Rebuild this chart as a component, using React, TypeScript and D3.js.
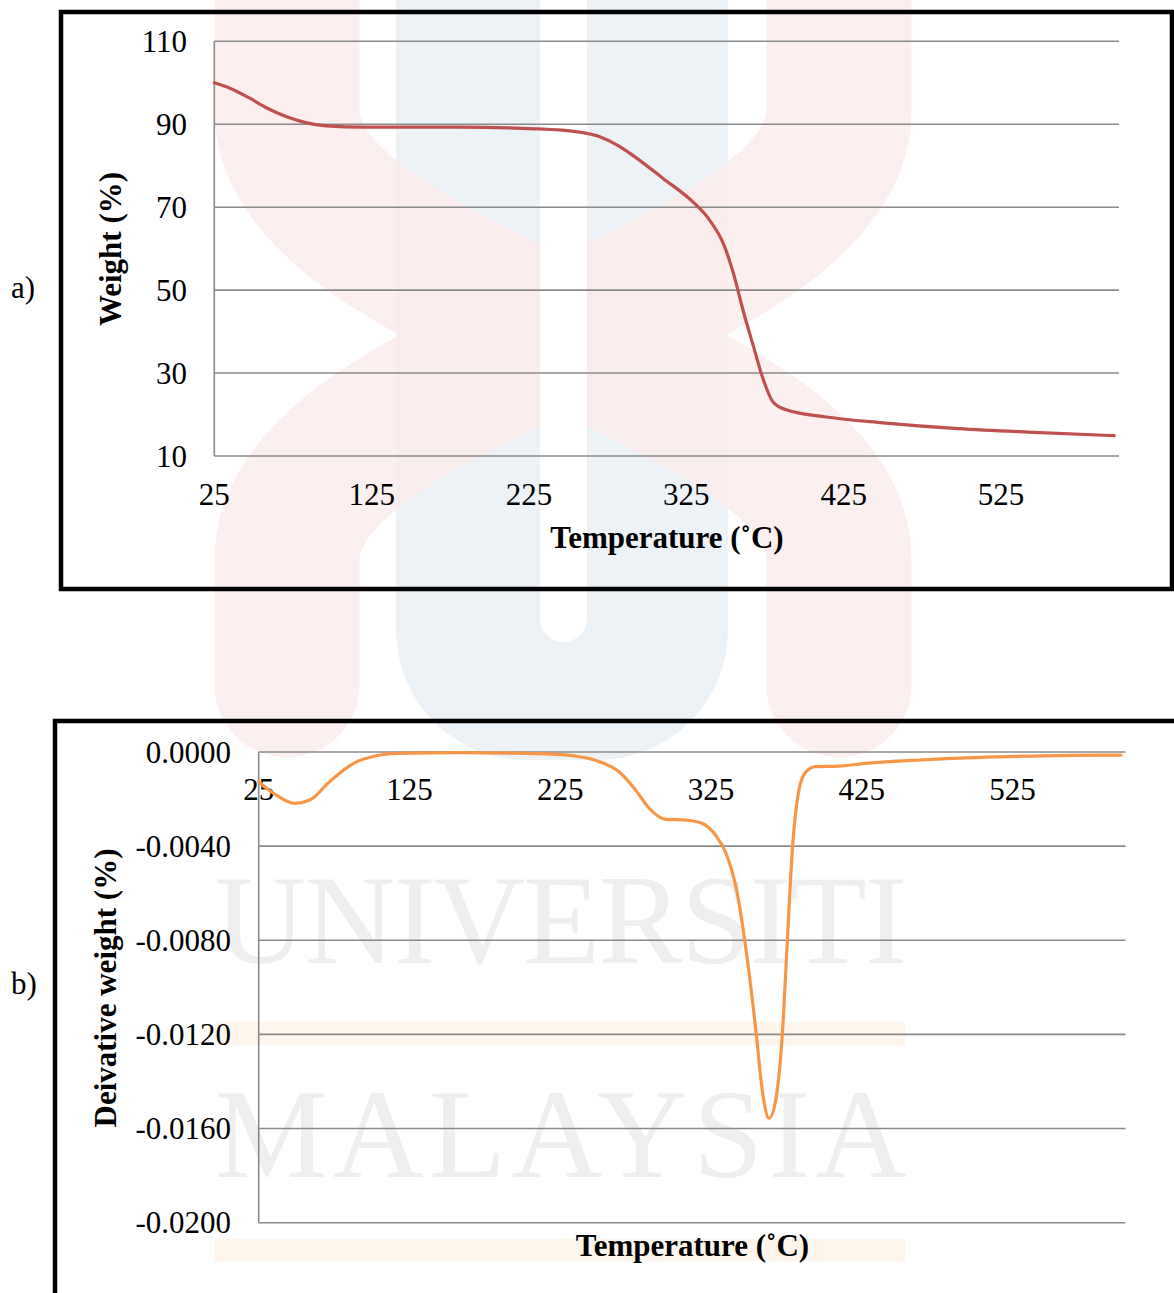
import React from "react";
import * as d3 from "d3";

// ---------- Panel a: TGA weight curve ----------
const tempA = [25, 35, 47, 59, 71, 83, 96, 120, 180, 229, 257, 270, 282, 291, 310, 330, 339, 349, 356, 361, 368, 373, 380, 388, 414, 450, 498, 546, 597];
const weightA = [100, 98.7, 96.4, 93.8, 91.8, 90.4, 89.6, 89.3, 89.3, 88.9, 88.1, 87.0, 84.8, 82.5, 77.0, 71.0, 67.3, 60.8, 52.6, 45.2, 36.0, 29.5, 23.1, 21.2, 19.4, 18.0, 16.6, 15.7, 14.9];
const yTicksA = [10, 30, 50, 70, 90, 110];

// ---------- Panel b: DTG curve ----------
const tempB = [25, 35, 49, 59, 72, 88, 103, 116, 160, 216, 238, 251, 264, 275, 284, 295, 308, 319, 328, 335, 342, 348, 355, 359, 363.6, 368, 372.4, 375.7, 379, 383.4, 388, 394.5, 410, 425, 464, 515, 565, 597];
const derivB = [-0.00126, -0.00176, -0.00218, -0.00204, -0.00126, -0.00048, -0.00016, -0.00006, -0.00003, -0.00008, -0.0002, -0.00041, -0.00084, -0.00161, -0.00239, -0.00286, -0.00289, -0.00303, -0.00353, -0.0043, -0.00586, -0.00827, -0.01195, -0.01436, -0.01556, -0.01479, -0.01195, -0.00799, -0.00416, -0.00161, -0.00084, -0.00062, -0.0006, -0.0005, -0.00034, -0.00021, -0.00014, -0.00013];
const yTicksB = [0, -0.004, -0.008, -0.012, -0.016, -0.02];

const xTicks = [25, 125, 225, 325, 425, 525];

const FONT = "'Liberation Serif', 'Times New Roman', Times, serif";
const GRID = "#8a8a8a";
const RED = "#C0504D";
const ORANGE = "#F79646";

function Watermark() {
  return (
    <g>
      {/* blue U */}
      <path d="M396,-10 L728,-10 L728,630 A130,130 0 0 1 598,760 L526,760 A130,130 0 0 1 396,630 Z" fill="#EDF2F7" />
      {/* red crossing ribbons */}
      <g opacity={0.75} fill="none" stroke="#FCEAEA" strokeWidth={145} strokeLinecap="round">
        <path d="M287,-80 L287,110 C287,300 839,370 839,560 L839,685" />
        <path d="M839,-80 L839,110 C839,300 287,370 287,560 L287,685" />
      </g>
      {/* white slot */}
      <path d="M540,-10 L587,-10 L587,618.5 A23.5,23.5 0 0 1 540,618.5 Z" fill="#ffffff" />
      {/* pale bars */}
      <rect x={215} y={1022} width={690} height={23} fill="#FEF5EC" />
      <rect x={215} y={1239} width={690} height={22} fill="#FEF5EC" />
      {/* text */}
      <text x={215} y={963} fontFamily={FONT} fontSize={126} fill="#EFEFEF" textLength={692} lengthAdjust="spacing">UNIVERSITI</text>
      <text x={215} y={1177} fontFamily={FONT} fontSize={126} fill="#EFEFEF" textLength={692} lengthAdjust="spacing">MALAYSIA</text>
    </g>
  );
}

export default function App() {
  const xA = d3.scaleLinear().domain([25, 600]).range([214.3, 1119]);
  const yA = d3.scaleLinear().domain([10, 110]).range([456, 41.3]);
  const xB = d3.scaleLinear().domain([25, 600]).range([258.7, 1125.5]);
  const yB = d3.scaleLinear().domain([-0.02, 0]).range([1222.7, 752]);

  const lineA = d3
    .line<number>()
    .x((_, i) => xA(tempA[i]))
    .y((d) => yA(d))
    .curve(d3.curveMonotoneX);
  const lineB = d3
    .line<number>()
    .x((_, i) => xB(tempB[i]))
    .y((d) => yB(d))
    .curve(d3.curveMonotoneX);

  const [ax0, ax1] = xA.range();
  const [bx0, bx1] = xB.range();
  const tickFs = 31;

  return (
    <svg
      width={1174}
      height={1293}
      viewBox="0 0 1174 1293"
      style={{ position: "absolute", left: 0, top: 0, background: "#ffffff" }}
    >
      <rect x={0} y={0} width={1174} height={1293} fill="#ffffff" />
      <Watermark />

      {/* ---------- Panel a ---------- */}
      <rect x={61} y={12} width={1111} height={577} fill="none" stroke="#000" strokeWidth={4.5} />
      <text x={11} y={298} fontFamily={FONT} fontSize={31} fill="#000">a)</text>
      {yTicksA.map((t) => (
        <g key={"ga" + t}>
          <line x1={ax0} x2={ax1} y1={yA(t)} y2={yA(t)} stroke={GRID} strokeWidth={1.6} />
          <text x={187} y={yA(t) + 10.5} textAnchor="end" fontFamily={FONT} fontSize={tickFs} fill="#000">
            {t}
          </text>
        </g>
      ))}
      <line x1={ax0} x2={ax0} y1={yA(110)} y2={yA(10)} stroke={GRID} strokeWidth={1.6} />
      {xTicks.map((t) => (
        <text key={"xa" + t} x={xA(t)} y={505} textAnchor="middle" fontFamily={FONT} fontSize={tickFs} fill="#000">
          {t}
        </text>
      ))}
      <path d={lineA(weightA) || ""} fill="none" stroke={RED} strokeWidth={3.2} strokeLinejoin="round" strokeLinecap="round" />
      <text x={667} y={548} textAnchor="middle" fontFamily={FONT} fontWeight="bold" fontSize={31} fill="#000">
        Temperature (˚C)
      </text>
      <text
        transform="translate(121,249) rotate(-90)"
        textAnchor="middle"
        fontFamily={FONT}
        fontWeight="bold"
        fontSize={31}
        fill="#000"
      >
        Weight (%)
      </text>

      {/* ---------- Panel b ---------- */}
      <rect x={55} y={721} width={1300} height={700} fill="none" stroke="#000" strokeWidth={4.5} />
      <text x={11} y={994} fontFamily={FONT} fontSize={31} fill="#000">b)</text>
      {yTicksB.map((t) => (
        <g key={"gb" + t}>
          <line x1={bx0} x2={bx1} y1={yB(t)} y2={yB(t)} stroke={GRID} strokeWidth={1.6} />
          <text x={231} y={yB(t) + 10.5} textAnchor="end" fontFamily={FONT} fontSize={tickFs} fill="#000">
            {t.toFixed(4)}
          </text>
        </g>
      ))}
      <line x1={bx0} x2={bx0} y1={yB(0)} y2={yB(-0.02)} stroke={GRID} strokeWidth={1.6} />
      {xTicks.map((t) => (
        <text key={"xb" + t} x={xB(t)} y={800} textAnchor="middle" fontFamily={FONT} fontSize={tickFs} fill="#000">
          {t}
        </text>
      ))}
      <path d={lineB(derivB) || ""} fill="none" stroke={ORANGE} strokeWidth={3.2} strokeLinejoin="round" strokeLinecap="round" />
      <text x={692.5} y={1256} textAnchor="middle" fontFamily={FONT} fontWeight="bold" fontSize={31} fill="#000">
        Temperature (˚C)
      </text>
      <text
        transform="translate(116,988) rotate(-90)"
        textAnchor="middle"
        fontFamily={FONT}
        fontWeight="bold"
        fontSize={31}
        fill="#000"
      >
        Deivative weight (%)
      </text>
    </svg>
  );
}
